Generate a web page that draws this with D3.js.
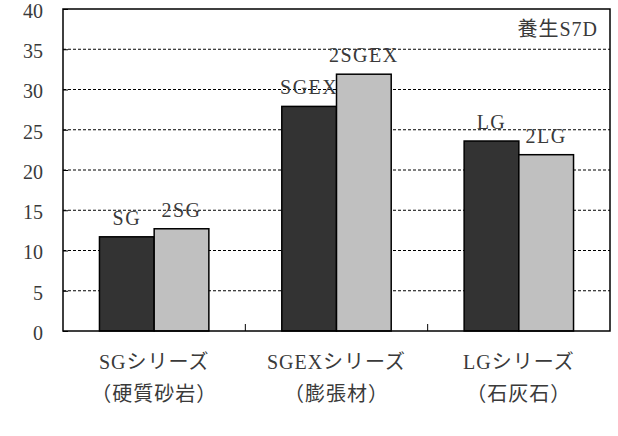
<html>
<head>
  <meta charset="utf-8">
  <script src="https://cdn.jsdelivr.net/npm/d3@7"></script>
  <style>
    body { margin: 0; background: #fff; }
    text { font-family: "Liberation Serif", "Noto Sans CJK JP", serif; fill: #3a3a3a; }
  </style>
</head>
<body>
<script>
  // categories and series
  const categories = ["SGシリーズ", "SGEXシリーズ", "LGシリーズ"];
  const subLabels = ["（硬質砂岩）", "（膨張材）", "（石灰石）"];
  const seriesNames = ["A", "B"];
  const darkValues = [11.7, 27.9, 23.6];
  const lightValues = [12.7, 31.9, 21.9];
  const darkLabels = ["SG", "SGEX", "LG"];
  const lightLabels = ["2SG", "2SGEX", "2LG"];
  const yTicks = [0, 5, 10, 15, 20, 25, 30, 35, 40];
  const note = "養生S7D";

  const W = 618, H = 436;
  const m = { left: 63, right: 8, top: 9, bottom: 105 };
  const pw = W - m.left - m.right, ph = H - m.top - m.bottom;

  const svg = d3.select("body").append("svg").attr("width", W).attr("height", H);
  const g = svg.append("g").attr("transform", `translate(${m.left},${m.top})`);

  const x = d3.scaleBand().domain(categories).range([0, pw]).padding(0);
  // bars take the middle 60% of each band
  const x1 = d3.scaleBand().domain(seriesNames).range([x.bandwidth() * 0.2, x.bandwidth() * 0.8]).padding(0);
  const y = d3.scaleLinear().domain([0, 40]).range([ph, 0]);

  // gridlines
  g.selectAll("line.grid").data(yTicks.filter(d => d > 0 && d < 40)).enter().append("line")
    .attr("x1", 0).attr("x2", pw)
    .attr("y1", d => y(d)).attr("y2", d => y(d))
    .attr("stroke", "#000").attr("stroke-width", 1).attr("stroke-dasharray", "3,2");

  const rows = categories.map((c, i) => ({ c, i }));
  const grp = g.selectAll("g.cat").data(rows).enter().append("g")
    .attr("transform", d => `translate(${x(d.c)},0)`);

  grp.append("rect")
    .attr("x", x1("A")).attr("width", x1.bandwidth())
    .attr("y", d => y(darkValues[d.i])).attr("height", d => ph - y(darkValues[d.i]))
    .attr("fill", "#333").attr("stroke", "#000").attr("stroke-width", 1.5);
  grp.append("rect")
    .attr("x", x1("B")).attr("width", x1.bandwidth())
    .attr("y", d => y(lightValues[d.i])).attr("height", d => ph - y(lightValues[d.i]))
    .attr("fill", "#c0c0c0").attr("stroke", "#000").attr("stroke-width", 1.5);

  grp.append("text")
    .attr("x", x1("A") + x1.bandwidth() / 2).attr("y", d => y(darkValues[d.i]) - 12)
    .attr("text-anchor", "middle").attr("font-size", 20).attr("letter-spacing", 1.5)
    .text(d => darkLabels[d.i]);
  grp.append("text")
    .attr("x", x1("B") + x1.bandwidth() / 2).attr("y", d => y(lightValues[d.i]) - 12)
    .attr("text-anchor", "middle").attr("font-size", 20).attr("letter-spacing", 1.5)
    .text(d => lightLabels[d.i]);

  // frame
  g.append("rect").attr("width", pw).attr("height", ph)
    .attr("fill", "none").attr("stroke", "#000").attr("stroke-width", 1.5);

  // y axis labels with inner ticks
  const yAxis = d3.axisLeft(y).tickValues(yTicks).tickSize(-5).tickPadding(20);
  const ya = g.append("g").call(yAxis);
  ya.select(".domain").remove();
  ya.selectAll("line").attr("stroke", "#000");
  ya.selectAll("text").attr("font-size", 20).attr("dy", "0.42em")
    .attr("font-family", "Liberation Serif").attr("fill", "#3a3a3a");

  // category separator ticks
  g.selectAll("line.sep").data(categories.slice(1)).enter().append("line")
    .attr("x1", d => x(d)).attr("x2", d => x(d))
    .attr("y1", ph).attr("y2", ph - 7)
    .attr("stroke", "#000").attr("stroke-width", 1);

  // category labels
  const cl = g.selectAll("g.cl").data(rows).enter().append("g")
    .attr("transform", d => `translate(${x(d.c) + x.bandwidth() / 2},${ph})`);
  cl.append("text").attr("y", 38).attr("text-anchor", "middle").attr("font-size", 20)
    .attr("letter-spacing", 1).text(d => d.c);
  cl.append("text").attr("y", 70).attr("text-anchor", "middle").attr("font-size", 20)
    .attr("letter-spacing", 1).text(d => subLabels[d.i]);

  g.append("text").attr("x", pw - 12).attr("y", 27).attr("text-anchor", "end")
    .attr("font-size", 20).attr("letter-spacing", 1).text(note);
</script>
</body>
</html>
